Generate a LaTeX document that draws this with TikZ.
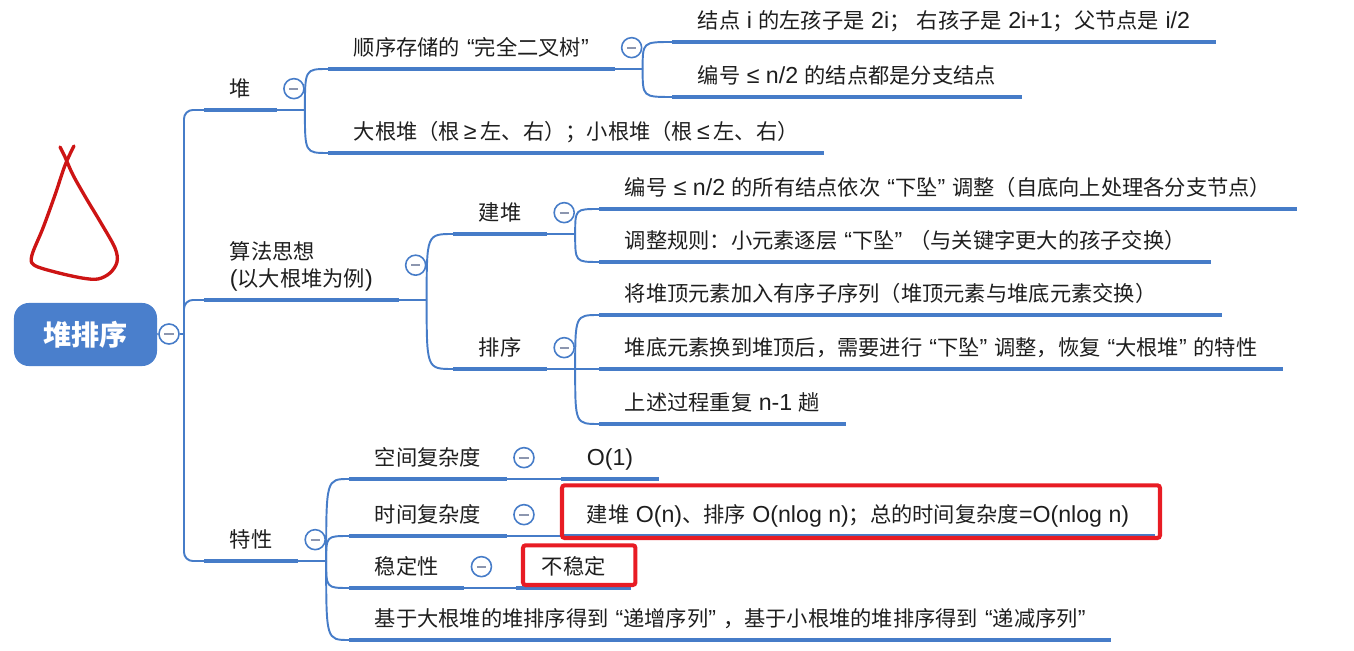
\documentclass[tikz,border=0pt]{standalone}
\usepackage{fontspec}
\setmainfont{Liberation Sans}[Scale=1.09]
\newfontfamily\cjkfam{Noto Sans CJK SC}
\newfontfamily\latfam{Liberation Sans}[Scale=1.09]
% switch between Latin and CJK fonts by character class
\XeTeXinterchartokenstate=1
\newXeTeXintercharclass\cjkcls
\newXeTeXintercharclass\oqcls
\newXeTeXintercharclass\cqcls
\newcommand\markcjk[2]{\count255=#1
  \loop\XeTeXcharclass\count255=\cjkcls\relax
  \ifnum\count255<#2 \advance\count255 by 1 \repeat}
\markcjk{"3000}{"303F}
\markcjk{"4E00}{"9FFF}
\markcjk{"FF00}{"FFEF}
\XeTeXcharclass"201C=\oqcls \XeTeXcharclass"201D=\cqcls
\XeTeXcharclass"2264=0 \XeTeXcharclass"2265=0
\XeTeXcharclass"28=0 \XeTeXcharclass"29=0
\XeTeXcharclass"2C=0 \XeTeXcharclass"2E=0
\XeTeXinterchartoks 0 \cjkcls = {\cjkfam}
\XeTeXinterchartoks 4095 \cjkcls = {\cjkfam}
\XeTeXinterchartoks \cjkcls 0 = {\latfam}
\XeTeXinterchartoks \cjkcls 4095 = {\latfam}
\XeTeXinterchartoks \cjkcls \oqcls = {\latfam\kern0.3em}
\XeTeXinterchartoks \oqcls \cjkcls = {\cjkfam}
\XeTeXinterchartoks \cjkcls \cqcls = {\latfam}
\XeTeXinterchartoks \cqcls \cjkcls = {\kern0.3em\cjkfam}
\usetikzlibrary{calc}
\definecolor{mapblue}{RGB}{70,124,200}
\definecolor{rootblue}{RGB}{74,127,204}
\definecolor{foldgray}{RGB}{140,150,175}
\definecolor{markred}{RGB}{232,28,36}
\definecolor{inkred}{RGB}{205,20,20}
\definecolor{textdark}{RGB}{30,30,30}

\begin{document}
\begin{tikzpicture}[
    x=0.02cm, y=-0.02cm,
    font=\fontsize{12.1}{15.4}\selectfont,
    topic/.style={anchor=south west, inner xsep=14.5pt, inner ysep=5.9pt,
                  text height=10.65pt, text depth=1.45pt, text=textdark},
    rootbox/.style={rectangle, rounded corners=8.5pt, fill=rootblue,
                    text=white, minimum width=81.4pt, minimum height=35.9pt,
                    font=\fontsize{16}{18}\selectfont\bfseries},
    fold/.style={circle, draw=mapblue, line width=0.9pt, fill=white,
                 minimum size=11.4pt, inner sep=0pt,
                 path picture={\draw[foldgray, line width=1.1pt]
                    ([xshift=-2.6pt]path picture bounding box.center) --
                    ([xshift=2.6pt]path picture bounding box.center);}},
    bar/.style={draw=mapblue, line width=2.7pt},
    link/.style={draw=mapblue, line width=1.1pt},
    hl/.style={draw=markred, line width=2.3pt, rounded corners=1.5pt},
    scrawl/.style={draw=inkred, line width=1.9pt, line cap=round,
                   line join=round},
]
\useasboundingbox (0,0) rectangle (1354,651);

%---------------------------------------------------------------
% Root
%---------------------------------------------------------------
\node[rootbox] (hs) at (85.5,334.5) {堆排序};

%---------------------------------------------------------------
% First level
%---------------------------------------------------------------
\node[topic] (dui) at (204,110) {堆};
\node[topic, align=left, text height=26pt] (sfsx) at (204,300)
     {算法思想\\(以大根堆为例)};
\node[topic] (tx) at (204,561) {特性};

%---------------------------------------------------------------
% Heap
%---------------------------------------------------------------
\node[topic] (sxcc) at (328,69) {顺序存储的“完全二叉树”};
\node[topic] (dgd) at (328,153)
     {大根堆（根\,≥\,左、右）；小根堆（根\,≤\,左、右）};
\node[topic] (zuo) at (672,42)
     {结点 i 的左孩子是 2i；\ 右孩子是 2i+1；父节点是 i/2};
\node[topic] (fz) at (672,97) {编号 ≤ n/2 的结点都是分支结点};

%---------------------------------------------------------------
% Algorithm idea
%---------------------------------------------------------------
\node[topic] (jd) at (453,234) {建堆};
\node[topic] (px) at (453,369) {排序};
\node[topic] (jd1) at (599,209)
     {编号 ≤ n/2 的所有结点依次“下坠”调整（自底向上处理各分支节点）};
\node[topic] (jd2) at (599,262)
     {调整规则：小元素逐层“下坠”（与关键字更大的孩子交换）};
\node[topic] (px1) at (599,315)
     {将堆顶元素加入有序子序列（堆顶元素与堆底元素交换）};
\node[topic] (px2) at (599,369)
     {堆底元素换到堆顶后，需要进行“下坠”调整，恢复“大根堆”的特性};
\node[topic] (px3) at (599,424) {上述过程重复 n-1 趟};

%---------------------------------------------------------------
% Properties
%---------------------------------------------------------------
\node[topic] (kj) at (349,479) {空间复杂度};
\node[topic] (sj) at (349,536) {时间复杂度};
\node[topic] (wd) at (349,588) {稳定性};
\node[topic] (jy) at (349,640)
     {基于大根堆的堆排序得到“递增序列”，基于小根堆的堆排序得到“递减序列”};
\node[topic] (o1) at (561,479) {O(1)};
\node[topic] (tc) at (561,536)
     {建堆 O(n)、排序 O(nlog n)；总的时间复杂度=O(nlog n)};
\node[topic] (bwd) at (516,588) {不稳定};

% underlines
\foreach \n in {dui,sfsx,tx,sxcc,dgd,zuo,fz,jd,px,jd1,jd2,px2,px3,
                kj,sj,wd,jy,o1,tc,bwd}
    \draw[bar] (\n.south west) -- (\n.south east);
\draw[bar] (px1.south west) -- ($(px1.south east)+(40,0)$);

%---------------------------------------------------------------
% Connectors
%---------------------------------------------------------------
\node[fold] (hs-f) at (169,334) {};
\coordinate (hs-j) at (184,334);
\draw[link] (hs.east) -- (hs-f.west);
\draw[link] (hs-f.east) -- (hs-j);
\foreach \n in {dui,sfsx,tx}
    \draw[link, rounded corners=5pt] (hs-j) |- (\n.south west);

\foreach \p in {dui,sfsx,tx,sxcc,jd,px,kj,sj,wd} {
    \coordinate (\p-j) at ($(\p.south east)+(28,0)$);
    \draw[link] (\p.south east) -- (\p-j);
    \node[fold] (\p-f) at ($(\p.east)+(17,0)$) {};
}

\foreach \p/\kids in {dui/{sxcc,dgd}, sxcc/{zuo,fz}, sfsx/{jd,px},
                      jd/{jd1,jd2}, px/{px1,px2,px3}, tx/{kj,sj,wd,jy}}
    \foreach \c in \kids
        \draw[link] (\p-j) .. controls (\p-j |- \c.south west)
              and (\p-j |- \c.south west) .. (\c.south west);

\foreach \a/\b in {kj/o1, sj/tc, wd/bwd}
    \draw[link] (\a-j) -- (\b.south west);

% red marks
\draw[hl] ($(tc.south west)+(1,2)$) rectangle ($(tc.north east)+(5,-8)$);
\draw[hl] ($(bwd.south west)+(7,-3)$) rectangle ($(bwd.north east)+(4,0)$);

\draw[scrawl] plot[smooth, tension=0.55] coordinates {
    (74,146) (70,154) (64,168) (55,195) (43,228) (32,255) (34,265)
    (55,272) (82,278) (98,279) (110,273) (117,262) (115,248) (101,223)
    (86,198) (73,175) (65,157) (60,147)};

\end{tikzpicture}
\end{document}
